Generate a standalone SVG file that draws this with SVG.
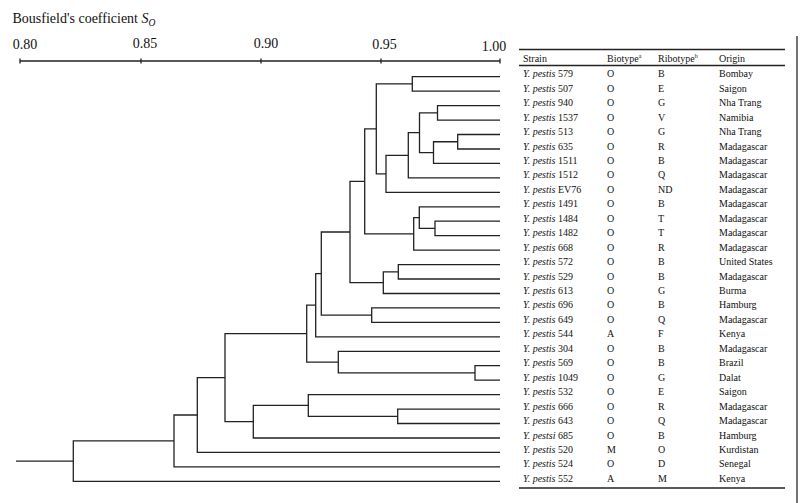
<svg xmlns="http://www.w3.org/2000/svg" width="800" height="503" viewBox="0 0 800 503">
<style>
text{font-family:"Liberation Serif","Times New Roman",serif;fill:#111}
.t{font-size:10px}
.i{font-style:italic}
.ax{font-size:14px}
.ln{fill:none;stroke:#222;stroke-width:1.3}
.rule{stroke:#222;stroke-width:1.5}
</style>
<rect width="800" height="503" fill="#fff"/>
<g id="axis">
<text class="ax" x="12.5" y="22.5">Bousfield's coefficient <tspan class="i">S</tspan><tspan class="i" font-size="9.5" dy="3">O</tspan></text>
<text class="ax" x="25" y="48.5" text-anchor="middle">0.80</text>
<text class="ax" x="145" y="48" text-anchor="middle">0.85</text>
<text class="ax" x="266" y="47.5" text-anchor="middle">0.90</text>
<text class="ax" x="384.5" y="48.5" text-anchor="middle">0.95</text>
<text class="ax" x="494" y="50.5" text-anchor="middle">1.00</text>
<path class="ln" d="M20 61H500M20 58.5V63.5M141 58.5V63.5M261 58.5V63.5M381 58.5V63.5M500 58.5V63.5"/>
</g>
<g id="connectors" class="ln">
<path d="M500 76.7H412.3V91.2H500"/>
<path d="M500 105.6H437.5V120.1H500"/>
<path d="M500 134.5H457.7V149H500"/>
<path d="M457.7 141.75H433.5V163.4H500"/>
<path d="M437.5 112.85H419.5V152.6H433.5"/>
<path d="M419.5 132.7H408.3V177.9H500"/>
<path d="M408.3 155.3H386V192.3H500"/>
<path d="M412.3 83.95H376.3V173.8H386"/>
<path d="M500 221.2H435V235.7H500"/>
<path d="M500 206.8H419.3V228.45H435"/>
<path d="M419.3 217.6H413.7V250.1H500"/>
<path d="M376.3 128.9H364.7V233.9H413.7"/>
<path d="M500 264.6H398.3V279H500"/>
<path d="M398.3 271.8H383.3V293.5H500"/>
<path d="M364.7 181.4H350V282.6H383.3"/>
<path d="M500 307.9H371.7V322.4H500"/>
<path d="M350 232H321.3V315.15H371.7"/>
<path d="M321.3 273.6H315.7V336.8H500"/>
<path d="M500 365.7H475V380.2H500"/>
<path d="M500 351.3H338.3V372.95H475"/>
<path d="M315.7 305.2H306.7V362.1H338.3"/>
<path d="M500 409.1H397.7V423.5H500"/>
<path d="M500 394.6H308.3V416.3H397.7"/>
<path d="M308.3 405.45H253.3V438H500"/>
<path d="M306.7 333.7H225V421.7H253.3"/>
<path d="M225 377.7H197.3V452.4H500"/>
<path d="M197.3 415H174V466.9H500"/>
<path d="M174 440.95H73.3V481.3H500"/>
<path d="M16 461.1H73.3"/>
</g>
<g id="table">
<line class="rule" x1="519" y1="49.5" x2="785" y2="49.5"/>
<line class="rule" x1="519" y1="65.5" x2="785" y2="65.5" stroke-width="1.2"/>
<line class="rule" x1="519" y1="488" x2="785" y2="488"/>
<line x1="797" y1="36" x2="797" y2="503" stroke="#444" stroke-width="1.5"/>
<g id="header" class="t">
<text x="523" y="61.5">Strain</text>
<text x="607" y="61.5">Biotype<tspan font-size="6" dy="-4">a</tspan></text>
<text x="658" y="61.5">Ribotype<tspan font-size="6" dy="-4">b</tspan></text>
<text x="719" y="61.5">Origin</text>
</g>
<g id="r579" class="t"><text x="523" y="77.2"><tspan class="i">Y. pestis</tspan> 579</text><text x="607" y="77.2">O</text><text x="658" y="77.2">B</text><text x="719" y="77.2">Bombay</text></g>
<g id="r507" class="t"><text x="523" y="91.7"><tspan class="i">Y. pestis</tspan> 507</text><text x="607" y="91.7">O</text><text x="658" y="91.7">E</text><text x="719" y="91.7">Saigon</text></g>
<g id="r940" class="t"><text x="523" y="106.1"><tspan class="i">Y. pestis</tspan> 940</text><text x="607" y="106.1">O</text><text x="658" y="106.1">G</text><text x="719" y="106.1">Nha Trang</text></g>
<g id="r1537" class="t"><text x="523" y="120.6"><tspan class="i">Y. pestis</tspan> 1537</text><text x="607" y="120.6">O</text><text x="658" y="120.6">V</text><text x="719" y="120.6">Namibia</text></g>
<g id="r513" class="t"><text x="523" y="135"><tspan class="i">Y. pestis</tspan> 513</text><text x="607" y="135">O</text><text x="658" y="135">G</text><text x="719" y="135">Nha Trang</text></g>
<g id="r635" class="t"><text x="523" y="149.5"><tspan class="i">Y. pestis</tspan> 635</text><text x="607" y="149.5">O</text><text x="658" y="149.5">R</text><text x="719" y="149.5">Madagascar</text></g>
<g id="r1511" class="t"><text x="523" y="163.9"><tspan class="i">Y. pestis</tspan> 1511</text><text x="607" y="163.9">O</text><text x="658" y="163.9">B</text><text x="719" y="163.9">Madagascar</text></g>
<g id="r1512" class="t"><text x="523" y="178.4"><tspan class="i">Y. pestis</tspan> 1512</text><text x="607" y="178.4">O</text><text x="658" y="178.4">Q</text><text x="719" y="178.4">Madagascar</text></g>
<g id="rEV76" class="t"><text x="523" y="192.8"><tspan class="i">Y. pestis</tspan> EV76</text><text x="607" y="192.8">O</text><text x="658" y="192.8">ND</text><text x="719" y="192.8">Madagascar</text></g>
<g id="r1491" class="t"><text x="523" y="207.3"><tspan class="i">Y. pestis</tspan> 1491</text><text x="607" y="207.3">O</text><text x="658" y="207.3">B</text><text x="719" y="207.3">Madagascar</text></g>
<g id="r1484" class="t"><text x="523" y="221.7"><tspan class="i">Y. pestis</tspan> 1484</text><text x="607" y="221.7">O</text><text x="658" y="221.7">T</text><text x="719" y="221.7">Madagascar</text></g>
<g id="r1482" class="t"><text x="523" y="236.2"><tspan class="i">Y. pestis</tspan> 1482</text><text x="607" y="236.2">O</text><text x="658" y="236.2">T</text><text x="719" y="236.2">Madagascar</text></g>
<g id="r668" class="t"><text x="523" y="250.6"><tspan class="i">Y. pestis</tspan> 668</text><text x="607" y="250.6">O</text><text x="658" y="250.6">R</text><text x="719" y="250.6">Madagascar</text></g>
<g id="r572" class="t"><text x="523" y="265.1"><tspan class="i">Y. pestis</tspan> 572</text><text x="607" y="265.1">O</text><text x="658" y="265.1">B</text><text x="719" y="265.1">United States</text></g>
<g id="r529" class="t"><text x="523" y="279.5"><tspan class="i">Y. pestis</tspan> 529</text><text x="607" y="279.5">O</text><text x="658" y="279.5">B</text><text x="719" y="279.5">Madagascar</text></g>
<g id="r613" class="t"><text x="523" y="294"><tspan class="i">Y. pestis</tspan> 613</text><text x="607" y="294">O</text><text x="658" y="294">G</text><text x="719" y="294">Burma</text></g>
<g id="r696" class="t"><text x="523" y="308.4"><tspan class="i">Y. pestis</tspan> 696</text><text x="607" y="308.4">O</text><text x="658" y="308.4">B</text><text x="719" y="308.4">Hamburg</text></g>
<g id="r649" class="t"><text x="523" y="322.9"><tspan class="i">Y. pestis</tspan> 649</text><text x="607" y="322.9">O</text><text x="658" y="322.9">Q</text><text x="719" y="322.9">Madagascar</text></g>
<g id="r544" class="t"><text x="523" y="337.3"><tspan class="i">Y. pestis</tspan> 544</text><text x="607" y="337.3">A</text><text x="658" y="337.3">F</text><text x="719" y="337.3">Kenya</text></g>
<g id="r304" class="t"><text x="523" y="351.8"><tspan class="i">Y. pestis</tspan> 304</text><text x="607" y="351.8">O</text><text x="658" y="351.8">B</text><text x="719" y="351.8">Madagascar</text></g>
<g id="r569" class="t"><text x="523" y="366.2"><tspan class="i">Y. pestis</tspan> 569</text><text x="607" y="366.2">O</text><text x="658" y="366.2">B</text><text x="719" y="366.2">Brazil</text></g>
<g id="r1049" class="t"><text x="523" y="380.7"><tspan class="i">Y. pestis</tspan> 1049</text><text x="607" y="380.7">O</text><text x="658" y="380.7">G</text><text x="719" y="380.7">Dalat</text></g>
<g id="r532" class="t"><text x="523" y="395.1"><tspan class="i">Y. pestis</tspan> 532</text><text x="607" y="395.1">O</text><text x="658" y="395.1">E</text><text x="719" y="395.1">Saigon</text></g>
<g id="r666" class="t"><text x="523" y="409.6"><tspan class="i">Y. pestis</tspan> 666</text><text x="607" y="409.6">O</text><text x="658" y="409.6">R</text><text x="719" y="409.6">Madagascar</text></g>
<g id="r643" class="t"><text x="523" y="424"><tspan class="i">Y. pestis</tspan> 643</text><text x="607" y="424">O</text><text x="658" y="424">Q</text><text x="719" y="424">Madagascar</text></g>
<g id="r685" class="t"><text x="523" y="438.5"><tspan class="i">Y. pestsi</tspan> 685</text><text x="607" y="438.5">O</text><text x="658" y="438.5">B</text><text x="719" y="438.5">Hamburg</text></g>
<g id="r520" class="t"><text x="523" y="452.9"><tspan class="i">Y. pestis</tspan> 520</text><text x="607" y="452.9">M</text><text x="658" y="452.9">O</text><text x="719" y="452.9">Kurdistan</text></g>
<g id="r524" class="t"><text x="523" y="467.4"><tspan class="i">Y. pestis</tspan> 524</text><text x="607" y="467.4">O</text><text x="658" y="467.4">D</text><text x="719" y="467.4">Senegal</text></g>
<g id="r552" class="t"><text x="523" y="481.8"><tspan class="i">Y. pestis</tspan> 552</text><text x="607" y="481.8">A</text><text x="658" y="481.8">M</text><text x="719" y="481.8">Kenya</text></g>
</g>
</svg>
